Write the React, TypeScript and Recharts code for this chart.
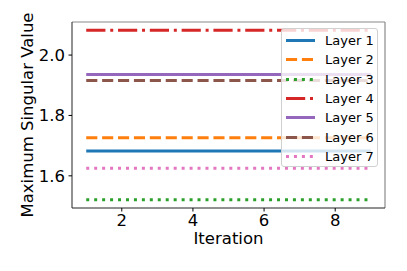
import React from 'react';
import { LineChart, Line, XAxis, YAxis, Legend, ReferenceLine } from 'recharts';

const iterations = [1, 2, 3, 4, 5, 6, 7, 8, 9];
const layerNames = ['Layer 1', 'Layer 2', 'Layer 3', 'Layer 4', 'Layer 5', 'Layer 6', 'Layer 7'];
const layer1 = [1.682, 1.682, 1.682, 1.682, 1.682, 1.682, 1.682, 1.682, 1.682];
const layer2 = [1.726, 1.726, 1.726, 1.726, 1.726, 1.726, 1.726, 1.726, 1.726];
const layer3 = [1.521, 1.521, 1.521, 1.521, 1.521, 1.521, 1.521, 1.521, 1.521];
const layer4 = [2.082, 2.082, 2.082, 2.082, 2.082, 2.082, 2.082, 2.082, 2.082];
const layer5 = [1.936, 1.936, 1.936, 1.936, 1.936, 1.936, 1.936, 1.936, 1.936];
const layer6 = [1.916, 1.916, 1.916, 1.916, 1.916, 1.916, 1.916, 1.916, 1.916];
const layer7 = [1.625, 1.625, 1.625, 1.625, 1.625, 1.625, 1.625, 1.625, 1.625];
const xTicks = [2, 4, 6, 8];
const yTicks = [1.6, 1.8, 2.0];
const xDomain = [0.6, 9.4];
const yDomain = [1.4935, 2.1095];

const seriesValues = [layer1, layer2, layer3, layer4, layer5, layer6, layer7];
const colors = ['#1f77b4', '#ff7f0e', '#2ca02c', '#d62728', '#9467bd', '#8c564b', '#e377c2'];
const dashes = ['', '11.1 4.8', '3 4.95', '19.2 4.8 3 4.8', '', '11.1 4.8', '3 4.95'];

const data = iterations.map((it, i) => {
  const row: Record<string, number> = { iteration: it };
  layerNames.forEach((n, j) => {
    row[n] = seriesValues[j][i];
  });
  return row;
});

const FONT = 'DejaVu Sans';

const LegendContent = () => (
  <div
    style={{
      width: 97,
      height: 139,
      boxSizing: 'border-box',
      border: '1px solid #d0d0d0',
      borderRadius: 3,
      background: 'rgba(255,255,255,0.8)',
      fontFamily: FONT,
      fontSize: 13,
      color: '#000',
      position: 'relative',
    }}
  >
    {layerNames.map((n, i) => (
      <div
        key={n}
        style={{ position: 'absolute', left: 0, top: 2 + i * 19.3, height: 19, display: 'flex', alignItems: 'center' }}
      >
        <svg width={40} height={19} style={{ display: 'block' }}>
          <line
            x1={4}
            x2={33}
            y1={9.5}
            y2={9.5}
            stroke={colors[i]}
            strokeWidth={3}
            strokeDasharray={dashes[i] || undefined}
          />
        </svg>
        <span style={{ marginLeft: 3, whiteSpace: 'nowrap', lineHeight: '19px' }}>{n}</span>
      </div>
    ))}
  </div>
);

const YLabel = (props: any) => {
  const vb = props.viewBox || {};
  const cx = 27;
  const cy = vb.y + vb.height / 2;
  return (
    <text
      x={cx}
      y={cy}
      transform={`rotate(-90 ${cx} ${cy})`}
      textAnchor="middle"
      dominantBaseline="central"
      fontFamily={FONT}
      fontSize={16.5}
      fill="#000"
    >
      Maximum Singular Value
    </text>
  );
};

export default function App() {
  return (
    <div style={{ position: 'absolute', left: 0, top: 0, width: 407, height: 271, background: '#fff' }}>
      <LineChart
        width={407}
        height={271}
        data={data}
        margin={{ top: 22, right: 22, bottom: 23, left: 0 }}
      >
        <XAxis
          dataKey="iteration"
          type="number"
          domain={xDomain}
          ticks={xTicks}
          allowDataOverflow
          height={40}
          tickSize={3.5}
          tickMargin={3}
          tickLine={{ stroke: '#000' }}
          axisLine={{ stroke: '#222', strokeWidth: 1 }}
          tick={{ fontFamily: FONT, fontSize: 16.5, fill: '#000' }}
          label={{ value: 'Iteration', position: 'insideBottom', offset: 0, dy: -4, fontFamily: FONT, fontSize: 16.5, fill: '#000' }}
        />
        <YAxis
          type="number"
          domain={yDomain}
          ticks={yTicks}
          allowDataOverflow
          width={72}
          tickSize={3.5}
          tickMargin={3.5}
          tickLine={{ stroke: '#000' }}
          axisLine={{ stroke: '#222', strokeWidth: 1 }}
          tickFormatter={(v: number) => v.toFixed(1)}
          tick={{ fontFamily: FONT, fontSize: 16.5, fill: '#000' }}
          label={<YLabel />}
        />
        <ReferenceLine y={yDomain[1]} stroke="#8a8a8a" strokeWidth={1.2} ifOverflow="extendDomain" />
        <ReferenceLine x={xDomain[1]} stroke="#8a8a8a" strokeWidth={1.2} ifOverflow="extendDomain" />
        {layerNames.map((n, i) => (
          <Line
            key={n}
            dataKey={n}
            stroke={colors[i]}
            strokeWidth={3}
            strokeDasharray={dashes[i] || undefined}
            dot={false}
            activeDot={false}
            isAnimationActive={false}
          />
        ))}
        <Legend
          layout="vertical"
          align="center"
          verticalAlign="middle"
          content={<LegendContent />}
          wrapperStyle={{ position: 'absolute', left: 281, top: 28, width: 97, height: 139, margin: 0 }}
        />
      </LineChart>
    </div>
  );
}
